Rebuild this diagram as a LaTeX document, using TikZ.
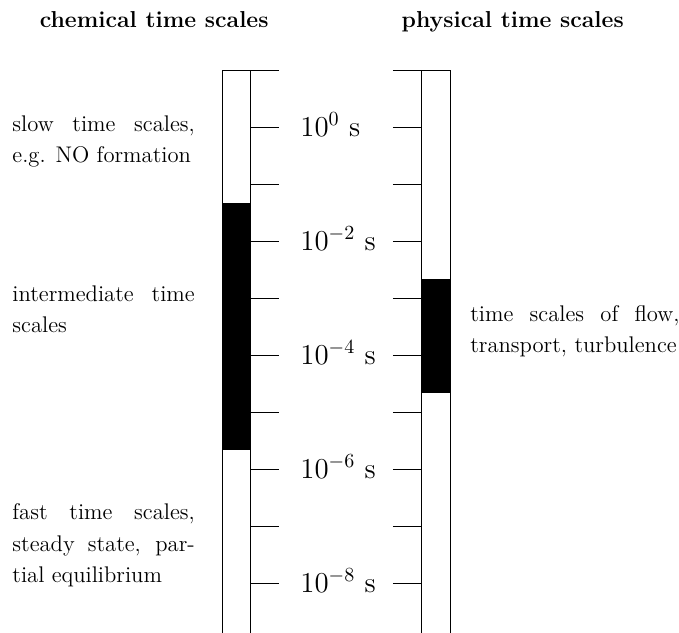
\documentclass[tikz,border=0pt]{standalone}
\begin{document}
\begin{tikzpicture}[every node/.style={inner sep=0pt,anchor=base west,font=\fontsize{11.3}{15.5}\selectfont},
	title/.style={anchor=base,font=\fontsize{11.5}{15}\selectfont\bfseries},
	note/.style={text width=3.2cm,align=justify},
	flownote/.style={text width=3.67cm,align=justify},
	scalelabel/.style={font=\Large}]
\useasboundingbox (-3.895,-9.877) rectangle (8.018,1.228);
% black ranges
\fill (0,-2.33) rectangle (0.5,-6.67);
\fill (3.5,-3.67) rectangle (4,-5.67);
% the two bars and their ticks
\draw (0,-9.877) |- (0.5,0) -- (0.5,-9.877);
\draw (3.5,-9.877) |- (4,0) -- (4,-9.877);
\foreach \k in {0,...,9} {
	\draw (0.5,-\k) -- (1,-\k);
	\draw (3,-\k) -- (3.5,-\k);
}
\foreach \k/\e in {1/0,3/-2,5/-4,7/-6,9/-8} {
	\node[scalelabel] (lab-\k) at (1.37,-\k-0.16) {$10^{\e}$ s};
}
\node[title] (chemtitle) at (-1.19,0.754) {chemical time scales};
\node[title] (phystitle) at (5.1,0.754) {physical time scales};
\node[note] (slow) at (-3.684,-1.082) {slow time scales, e.g. NO formation};
\node[note] (inter) at (-3.684,-4.065) {intermediate time scales};
\node[note] (fast) at (-3.684,-7.895) {fast time scales, steady state, partial equilibrium};
\node[flownote] (flow) at (4.35,-4.416) {time scales of flow, transport, turbulence};
\end{tikzpicture}
\end{document}
